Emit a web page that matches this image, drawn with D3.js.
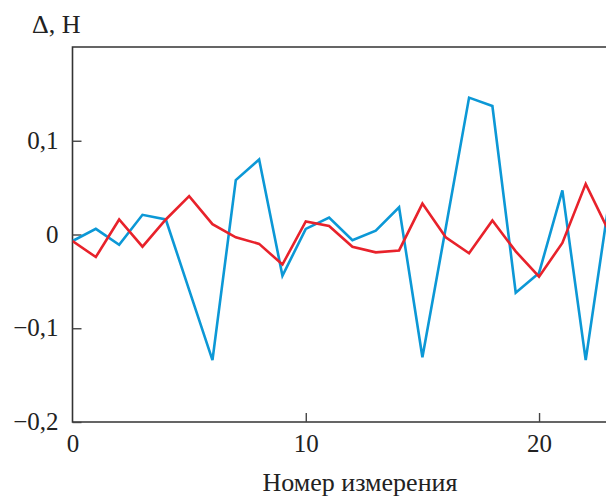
<!DOCTYPE html>
<html>
<head>
<meta charset="utf-8" />
<style type="text/css">
	*{margin:0px;padding:0px;}
	body{background:#fff;}
	svg text{font-family:"Liberation Serif","DejaVu Serif",serif;fill:#222;}
</style>
</head>
<body>
<script src="https://cdn.jsdelivr.net/npm/d3@7/dist/d3.min.js"></script>
<script type="text/javascript">
// measurement number 0..23
var idx = d3.range(0, 24);
var redVals = [-0.007,-0.024,0.016,-0.013,0.016,0.041,0.011,-0.003,-0.010,-0.032,
	0.014,0.009,-0.013,-0.019,-0.017,0.033,-0.003,-0.020,0.015,-0.018,
	-0.045,-0.009,0.054,0.003];
var blueVals = [-0.007,0.006,-0.011,0.021,0.016,-0.059,-0.134,0.058,0.080,-0.044,
	0.006,0.018,-0.006,0.004,0.029,-0.131,0.007,0.146,0.137,-0.062,
	-0.041,0.047,-0.134,0.035];
var yTicks = [-0.2,-0.1,0,0.1];
var xTicks = [0,10,20];

var W = 606, H = 496;
var pL = 72.5, pR = 606, pT = 47, pB = 422;

var svg = d3.select("body").append("svg").attr("width", W).attr("height", H);

var x = d3.scaleLinear().domain([0, 22.87]).range([pL, pR]);
var y = d3.scaleLinear().domain([-0.2, 0.2]).range([pB, pT]);

svg.append("clipPath").attr("id","clip").append("rect")
	.attr("x", pL).attr("y", pT).attr("width", pR-pL).attr("height", pB-pT);

function fmt(v){
	var s = d3.format(".1f")(Math.abs(v)).replace(".", ",");
	if(v === 0) return "0";
	return (v < 0 ? "\u2212" : "") + s;
}

// frame: left, bottom, top
svg.append("path")
	.attr("d", "M"+pR+","+pT+"H"+pL+"V"+pB+"H"+pR)
	.attr("fill","none").attr("stroke","#333").attr("stroke-width",1.6);

// y ticks
var yAxis = d3.axisLeft(y).tickValues(yTicks).tickSize(-9).tickPadding(14).tickFormat(fmt);
var gy = svg.append("g").attr("transform","translate("+pL+",0)").call(yAxis);
gy.select(".domain").remove();
gy.selectAll("line").attr("stroke","#444").attr("stroke-width",1.4);
gy.selectAll("text").attr("font-size",25).attr("fill","#222").attr("dy","0.3em")
	.style("font-family","'Liberation Serif',serif");

// x ticks
var xAxis = d3.axisBottom(x).tickValues(xTicks).tickSize(-9).tickPadding(12).tickFormat(d3.format("d"));
var gx = svg.append("g").attr("transform","translate(0,"+pB+")").call(xAxis);
gx.select(".domain").remove();
gx.selectAll("line").attr("stroke","#444").attr("stroke-width",1.4)
	.attr("display", function(d){return d === 0 ? "none" : null;});
gx.selectAll("text").attr("font-size",25).attr("fill","#222")
	.style("font-family","'Liberation Serif',serif");

var line = d3.line().x(function(d){return x(d[0]);}).y(function(d){return y(d[1]);});

var plot = svg.append("g").attr("clip-path","url(#clip)");
plot.append("path").datum(idx.map(function(i){return [i, blueVals[i]];}))
	.attr("d", line).attr("fill","none").attr("stroke","#0c98d6").attr("stroke-width",2.6)
	.attr("stroke-linejoin","miter");
plot.append("path").datum(idx.map(function(i){return [i, redVals[i]];}))
	.attr("d", line).attr("fill","none").attr("stroke","#e8222b").attr("stroke-width",2.6)
	.attr("stroke-linejoin","miter");

// labels
svg.append("text").attr("x",32).attr("y",33).attr("font-size",26).text("\u0394, \u041D");
svg.append("text").attr("x",360).attr("y",491).attr("font-size",26).attr("text-anchor","middle")
	.text("Номер измерения");
</script>
</body>
</html>
